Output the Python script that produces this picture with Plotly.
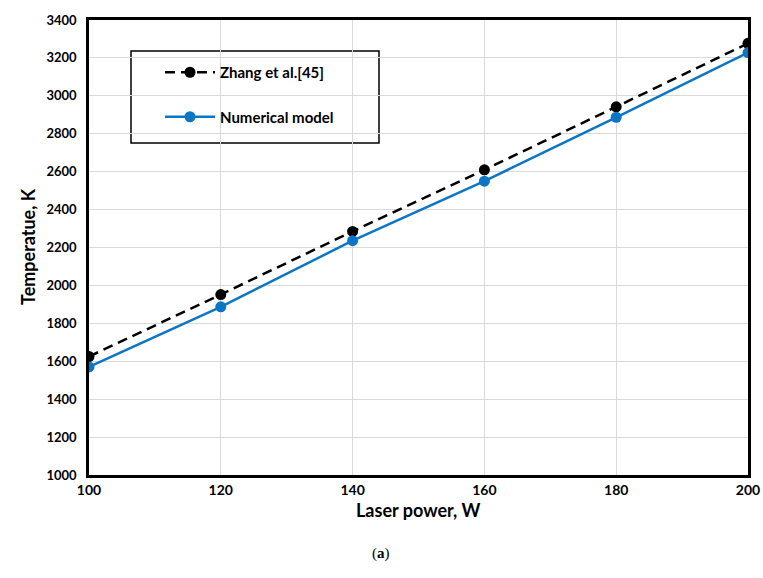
import plotly.graph_objects as go

laser_power = [100, 120, 140, 160, 180, 200]
zhang = [1625, 1952, 2285, 2610, 2942, 3277]
numerical = [1570, 1887, 2236, 2550, 2887, 3228]
x_ticks = [100, 120, 140, 160, 180, 200]
y_ticks = [1000, 1200, 1400, 1600, 1800, 2000, 2200, 2400, 2600, 2800, 3000, 3200, 3400]

FONT = "Lato"
W, H = 763, 578
L, R, T, B = 89, 15, 20, 103
PW, PH = W - L - R, H - T - B


def px_to_paper_x(px):
    return (px - L) / PW


def px_to_paper_y(py):
    return (H - B - py) / PH


fig = go.Figure()
fig.add_trace(go.Scatter(
    x=laser_power, y=zhang, name="Zhang et al.[45]", mode="lines+markers",
    line=dict(color="black", width=2.5, dash="10px,6px"),
    marker=dict(color="black", size=11), legendgroup="a"))
fig.add_trace(go.Scatter(
    x=laser_power, y=numerical, name="Numerical model", mode="lines+markers",
    line=dict(color="#0D76C4", width=2.5),
    marker=dict(color="#0D76C4", size=11), legendgroup="b"))

fig.update_layout(
    width=W, height=H,
    margin=dict(l=L, r=R, t=T, b=B),
    plot_bgcolor="white", paper_bgcolor="white",
    font=dict(family=FONT, color="black"),
    legend=dict(x=px_to_paper_x(160), y=px_to_paper_y(56), xanchor="left", yanchor="top",
                bgcolor="rgba(0,0,0,0)", borderwidth=0,
                font=dict(family=FONT, size=15, color="black", weight="bold"),
                tracegroupgap=22, traceorder="grouped", itemwidth=50),
    shapes=[dict(type="rect", xref="paper", yref="paper",
                 x0=px_to_paper_x(131), x1=px_to_paper_x(379),
                 y0=px_to_paper_y(143), y1=px_to_paper_y(51),
                 line=dict(color="black", width=1.5), fillcolor="white", layer="below")],
    annotations=[
        dict(text="(<b>a</b>)", xref="paper", yref="paper",
             x=px_to_paper_x(381), y=px_to_paper_y(553),
             showarrow=False, font=dict(family="Liberation Serif", size=15, color="black"),
             xanchor="center", yanchor="middle"),
        dict(text="<b>Laser power, W</b>", xref="paper", yref="paper",
             x=px_to_paper_x(418), y=px_to_paper_y(510),
             showarrow=False, font=dict(family=FONT, size=18, color="black"),
             xanchor="center", yanchor="middle"),
        dict(text="<b>Temperatue, K</b>", xref="paper", yref="paper",
             x=px_to_paper_x(28), y=px_to_paper_y(247), textangle=-90,
             showarrow=False, font=dict(family=FONT, size=18, color="black"),
             xanchor="center", yanchor="middle"),
    ],
)

fig.update_xaxes(
    range=[100, 200], tickvals=x_ticks, ticks="", showgrid=True, gridcolor="#D9D9D9", gridwidth=1.3,
    showline=True, linecolor="black", linewidth=2.5, mirror=True, zeroline=False,
    tickfont=dict(family=FONT, size=14, weight="bold"), ticklabelstandoff=0,
    ticklabeloverflow="allow", automargin=False)
fig.update_yaxes(
    range=[1000, 3400], tickvals=y_ticks, ticks="", showgrid=True, gridcolor="#D9D9D9", gridwidth=1.3,
    showline=True, linecolor="black", linewidth=2.5, mirror=True, zeroline=False,
    tickfont=dict(family=FONT, size=13, weight="bold"), ticklabelstandoff=7, automargin=False)

fig.write_html("out.html", config={"displayModeBar": False},
               post_script="document.body.style.margin='0';")
